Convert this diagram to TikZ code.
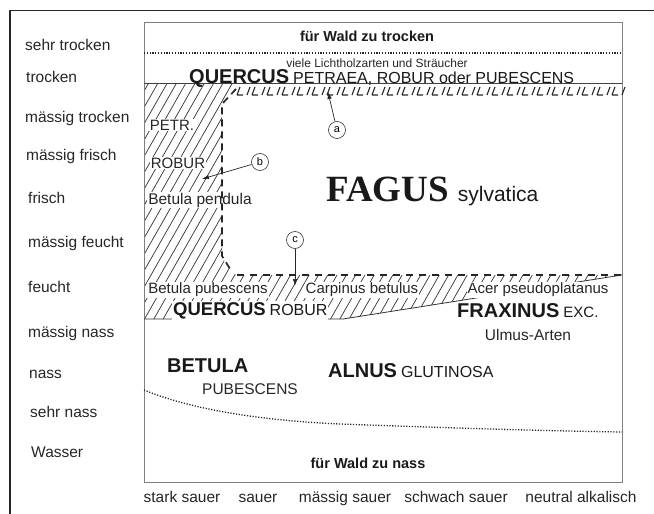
\documentclass[tikz,border=0pt]{standalone}
\usepackage{fontspec}
\setmainfont{Liberation Sans}
\newfontfamily\fagusfont{Liberation Serif}
\usepackage{tikz}
\usetikzlibrary{arrows.meta,backgrounds}
\tikzset{
  zone/.style={anchor=base west, inner sep=0pt, text=black!85, font=\fontsize{15.5}{18}\selectfont},
  soil/.style={anchor=base, inner sep=0pt, text=black!85, font=\fontsize{15.5}{18}\selectfont},
  limit/.style={inner sep=0pt, text=black!90, font=\bfseries\fontsize{14.5}{17}\selectfont},
  spec/.style={inner sep=1pt, fill=white, text=black!85, font=\fontsize{15}{18}\selectfont},
  genline/.style={anchor=base west, inner sep=1pt, text=black!90},
  lettr/.style={circle, draw=black!80, line width=0.6pt, inner sep=0pt, minimum size=17pt, font=\fontsize{11}{11}\selectfont},
  ptr/.style={-{Latex[length=7pt,width=4.5pt]}, line width=0.7pt, draw=black!85},
  hatch/.style={line width=0.7pt, draw=black!80},
  zoneedge/.style={line width=1.7pt, dash pattern=on 7pt off 5pt, draw=black!85},
  bandedge/.style={line width=1.2pt, dash pattern=on 7pt off 6pt, draw=black!85},
  dotline/.style={line width=1.3pt, dash pattern=on 1.2pt off 1.6pt, draw=black!85},
}
\newcommand{\gname}[1]{{\bfseries\fontsize{20}{22}\selectfont #1}\hspace{4pt}}
\newcommand{\spname}{\fontsize{16}{18}\selectfont}

\begin{document}
\begin{tikzpicture}[x=1pt, y=-1pt]
  \useasboundingbox (0,0) rectangle (654,514);
  % frame and chart box
  \draw[line width=1.1pt, black!85] (10,514) -- (10,10.5) -- (654,10.5);
  \draw[line width=0.8pt, black!50] (144,22) rectangle (622,482);

  % moisture scale
  \node[zone] (m1) at (25,50.5) {sehr trocken};
  \node[zone] (m2) at (26,82.5) {trocken};
  \node[zone] (m3) at (25,122) {mässig trocken};
  \node[zone] (m4) at (26,160) {mässig frisch};
  \node[zone] (m5) at (28,203.5) {frisch};
  \node[zone] (m6) at (28,247.5) {mässig feucht};
  \node[zone] (m7) at (28,292.5) {feucht};
  \node[zone] (m8) at (28,337) {mässig nass};
  \node[zone] (m9) at (29,378) {nass};
  \node[zone] (m10) at (30,417) {sehr nass};
  \node[zone] (m11) at (31,457) {Wasser};

  % acidity scale
  \node[soil] (s1) at (182,502) {stark sauer};
  \node[soil] (s2) at (258,502) {sauer};
  \node[soil] (s3) at (345,502) {mässig sauer};
  \node[soil] (s4) at (456,502) {schwach sauer};
  \node[soil] (s5) at (581,502) {neutral alkalisch};

  % limits of forest
  \node[limit] (dry) at (367,36) {für Wald zu trocken};
  \draw[dotline] (144,53) -- (622,53);
  \node[limit] (wet) at (368,463) {für Wald zu nass};
  \draw[dotline] (144,390) .. controls (185,407) and (250,420) .. (340,424)
    .. controls (450,428) and (550,431) .. (622,432);

  % upper zone
  \draw[line width=0.8pt, black!75] (144,83) -- (622,83);
  \node[inner sep=0pt, text=black!85, font=\fontsize{12}{14}\selectfont] (light) at (377,63) {viele Lichtholzarten und Sträucher};
  \node[genline] (qpet) at (188,83) {\gname{QUERCUS}\spname PETRAEA, ROBUR oder PUBESCENS};
  \foreach \x in {237,252,...,612}
    \draw[line width=1.1pt, black!85] (\x,95) -- ++(6,0) (\x,95) -- ++(3,-8) (\x+10,95) -- ++(3,-8);

  % hatched zone
  \begin{scope}[on background layer]
    \clip (144,83) -- (236,83) -- (222,103) -- (222,258) -- (236,275) -- (622,275) -- (343,319) -- (144,319) -- cycle;
    \foreach \x in {-150,-140.7,...,640}
      \draw[hatch] (\x,330) -- ++(148,-260);
  \end{scope}
  \draw[line width=0.8pt, black!80] (144,319) -- (343,319) -- (622,275);
  \draw[bandedge] (237,275) -- (622,275);

  \node[spec] (petr) at (172,125) {PETR.};
  \node[spec] (robur) at (178,163) {ROBUR};
  \node[spec, font=\fontsize{15.5}{18}\selectfont] (bpend) at (200,200) {Betula pendula};
  \node[spec] (bpub) at (208,290) {Betula pubescens};
  \node[spec] (carp) at (362,290) {Carpinus betulus};
  \node[spec] (acer) at (538,290) {Acer pseudoplatanus};
  \node[genline, fill=white] (qrob) at (172,315) {{\bfseries\fontsize{18.5}{20}\selectfont QUERCUS}\hspace{4pt}{\fontsize{16}{18}\selectfont ROBUR}};
  \draw[zoneedge] (236,89) -- (222,104) -- (222,256) -- (232,272);

  % central zone
  \node[genline] (fagus) at (325,201) {{\fagusfont\bfseries\fontsize{37}{40}\selectfont FAGUS}\hspace{9pt}{\fontsize{21}{24}\selectfont sylvatica}};

  % lower zone
  \node[genline] (frax) at (456,317) {\gname{FRAXINUS}{\fontsize{15}{18}\selectfont EXC.}};
  \node[soil] (ulmus) at (528,340) {Ulmus-Arten};
  \node[genline] (betula) at (166,372) {\gname{BETULA}};
  \node[soil] (pubesc) at (250,394) {PUBESCENS};
  \node[genline] (alnus) at (327,377) {\gname{ALNUS}\spname GLUTINOSA};

  % markers
  \node[lettr] (ca) at (337,130) {a};
  \node[lettr] (cb) at (260,162) {b};
  \node[lettr] (cc) at (295,240) {c};
  \coordinate (ta) at (328,92);
  \coordinate (tb) at (202,179);
  \coordinate (tc) at (295,286);
  \draw[ptr] (ca) -- (ta);
  \draw[ptr] (cb) -- (tb);
  \draw[ptr] (cc) -- (tc);
\end{tikzpicture}
\end{document}
